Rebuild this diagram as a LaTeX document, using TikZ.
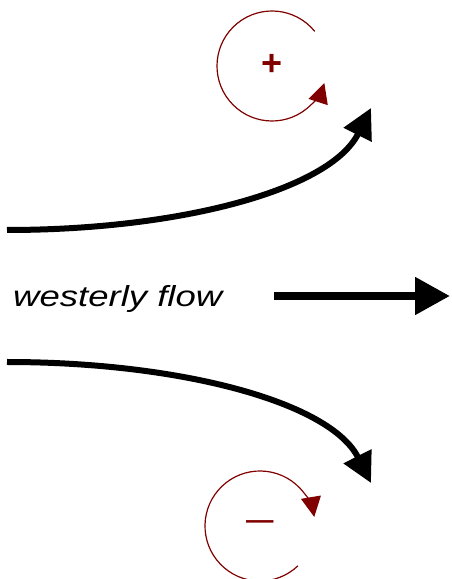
\documentclass[tikz,border=0pt]{standalone}
\usepackage{fontspec}
\setmainfont{Liberation Sans}
\usetikzlibrary{arrows.meta}
\definecolor{darkred}{RGB}{128,0,0}
\tikzset{
  flow/.style={line width=6pt, -{Triangle[length=30pt,width=30pt]}},
  mainflow/.style={line width=8pt, -{Triangle[length=35pt,width=36pt]}},
  vort/.style={darkred, line width=1.2pt, -{Triangle[length=20pt,width=20pt]}},
  sign/.style={darkred, font=\fontsize{36}{40}\selectfont, inner sep=0pt}
}
\begin{document}
\begin{tikzpicture}[x=1pt,y=1pt]
\useasboundingbox (0,0) rectangle (451,579);
\clip (0,0) rectangle (451,579);
% coordinates
\coordinate (ts) at (7,349);
\coordinate (te) at (371,471);
\coordinate (bs) at (7,217);
\coordinate (be) at (371,96);
\coordinate (ms) at (274,283);
\coordinate (me) at (450,283);
\coordinate (c1) at (272,513);
\coordinate (c2) at (260,53);
% text
\node[anchor=base west, inner sep=0pt, font=\fontsize{29}{32}\selectfont\itshape] (wf) at (13,272) {\scalebox{1.26}[1]{westerly flow}};
% flows
\draw[flow] (ts) .. controls (180,349) and (330,389) .. (te);
\draw[flow] (bs) .. controls (180,217) and (330,177) .. (be);
\draw[mainflow] (ms) -- (me);
% vortices
\draw[vort] (c1) ++(39:55) arc[start angle=39, end angle=342, radius=55];
\draw[vort] (c2) ++(-46.5:55) arc[start angle=-46.5, end angle=-350.5, radius=55];
\node[sign, font=\fontsize{36}{40}\selectfont\bfseries] (plus) at (272,514) {+};
\node[sign, font=\fontsize{38}{40}\selectfont] (minus) at (c2) {\scalebox{1.3}[1]{–}};
\end{tikzpicture}
\end{document}
